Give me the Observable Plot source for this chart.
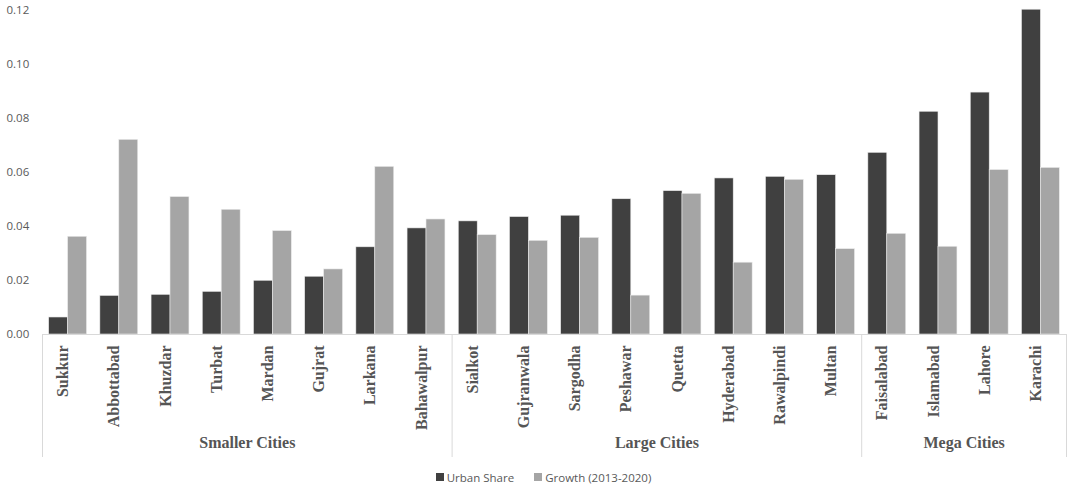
<!DOCTYPE html>
<html><head><meta charset="utf-8">
<script src="https://cdn.jsdelivr.net/npm/d3@7"></script>
<script src="https://cdn.jsdelivr.net/npm/@observablehq/plot@0.6"></script>
<style>
html,body{margin:0;padding:0;background:#fff;}
#legend{height:22px;display:flex;justify-content:center;align-items:center;gap:20px;padding-left:18px;
  font-family:"Open Sans",sans-serif;font-size:11.5px;color:#595959;}
#legend span.sw{display:inline-block;width:8px;height:8px;margin-right:3px;vertical-align:middle;position:relative;top:-1px;}
</style></head><body>
<div id="chart"></div>
<div id="legend"></div>
<script>
const cities = ["Sukkur","Abbottabad","Khuzdar","Turbat","Mardan","Gujrat","Larkana","Bahawalpur",
  "Sialkot","Gujranwala","Sargodha","Peshawar","Quetta","Hyderabad","Rawalpindi","Multan",
  "Faisalabad","Islamabad","Lahore","Karachi"];
const groupNames = ["Smaller Cities","Large Cities","Mega Cities"];
const groupSizes = [8, 8, 4];
const urbanShare = [0.0063,0.0143,0.0147,0.0158,0.0199,0.0214,0.0323,0.0393,
  0.0419,0.0435,0.0440,0.0501,0.0531,0.0578,0.0584,0.0590,
  0.0673,0.0825,0.0896,0.1203];
const growth = [0.0362,0.0721,0.0509,0.0462,0.0383,0.0241,0.0621,0.0426,
  0.0368,0.0347,0.0358,0.0144,0.0521,0.0266,0.0573,0.0316,
  0.0373,0.0325,0.0609,0.0617];
const seriesNames = ["Urban Share","Growth (2013-2020)"];
const seriesColors = ["#404040","#a5a5a5"];
const yTicks = [0,0.02,0.04,0.06,0.08,0.10,0.12];

// tables built from the arrays
const bars = [];
cities.forEach((c, i) => {
  bars.push({i, city: c, s: 0, series: seriesNames[0], value: urbanShare[i]});
  bars.push({i, city: c, s: 1, series: seriesNames[1], value: growth[i]});
});
let acc = 0;
const groups = groupNames.map((g, k) => {
  const start = acc; acc += groupSizes[k];
  return {name: g, start, end: acc, mid: (start + acc) / 2};
});
const bounds = [0, ...groups.map(g => g.end)];

const serif = "'Liberation Serif', serif";
const sans = "'Open Sans', sans-serif";
const pad = 0.13, bw = 0.37;

const chart = Plot.plot({
  width: 1069,
  height: 466,
  marginLeft: 42,
  marginRight: 3,
  marginTop: 10,
  marginBottom: 132,
  x: {type: "linear", domain: [0, cities.length], axis: null},
  y: {domain: [0, 0.12], axis: null},
  color: {domain: seriesNames, range: seriesColors},
  marks: [
    Plot.rectY(bars, {
      x1: d => d.i + pad + d.s * bw,
      x2: d => d.i + pad + (d.s + 1) * bw,
      y: "value",
      fill: "series",
      stroke: "#ececec",
      strokeWidth: 0.6
    }),
    Plot.ruleY([0], {stroke: "#d9d9d9", strokeWidth: 1}),
    Plot.ruleX(bounds, {x: d => d, stroke: "#d9d9d9", strokeWidth: 1, insetTop: 324, insetBottom: -123}),
    Plot.text(yTicks, {
      y: d => d, text: d => d3.format(".2f")(d),
      frameAnchor: "left", textAnchor: "start", dx: -36,
      fontSize: 11.5, fontFamily: sans, fill: "#595959"
    }),
    Plot.text(cities, {
      x: (d, i) => i + 0.5, text: d => d,
      frameAnchor: "bottom", rotate: -90, textAnchor: "end", dy: 11,
      fontSize: 16, fontWeight: "bold", fontFamily: serif, fill: "#555555"
    }),
    Plot.text(groups, {
      x: "mid", text: "name",
      frameAnchor: "bottom", dy: 113,
      fontSize: 16, fontWeight: "bold", fontFamily: serif, fill: "#555555"
    })
  ]
});
document.getElementById("chart").appendChild(chart);

const legend = document.getElementById("legend");
seriesNames.forEach((n, k) => {
  const item = document.createElement("span");
  const sw = document.createElement("span");
  sw.className = "sw";
  sw.style.background = seriesColors[k];
  item.appendChild(sw);
  item.appendChild(document.createTextNode(n));
  legend.appendChild(item);
});
</script>
</body></html>
